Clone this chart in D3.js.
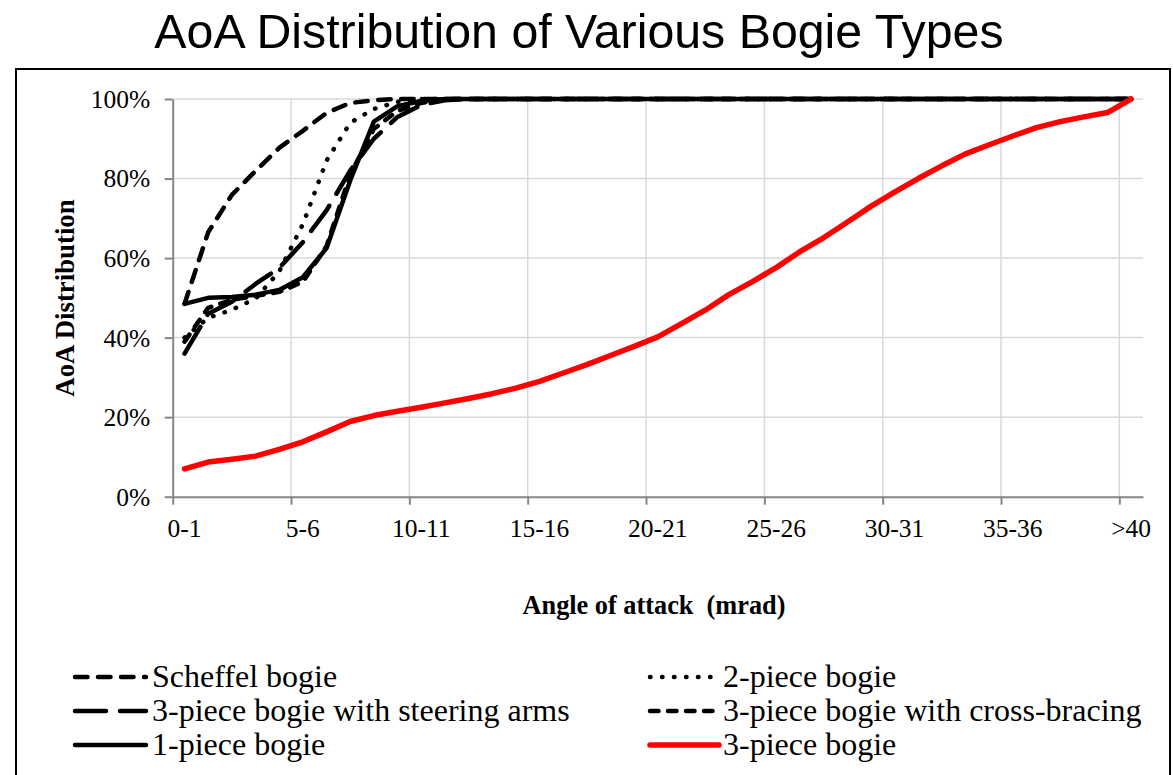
<!DOCTYPE html>
<html>
<head>
<meta charset="utf-8">
<script src="https://cdn.jsdelivr.net/npm/d3@7"></script>
<style>
  html, body { margin: 0; padding: 0; background: #ffffff; }
  svg { display: block; }
</style>
</head>
<body>
<script>
// Angle-of-attack bins (mrad)
const categories = [
  "0-1","1-2","2-3","3-4","4-5","5-6","6-7","7-8","8-9","9-10",
  "10-11","11-12","12-13","13-14","14-15","15-16","16-17","17-18","18-19","19-20",
  "20-21","21-22","22-23","23-24","24-25","25-26","26-27","27-28","28-29","29-30",
  "30-31","31-32","32-33","33-34","34-35","35-36","36-37","37-38","38-39","39-40",
  ">40"
];
const tickLabels = ["0-1","5-6","10-11","15-16","20-21","25-26","30-31","35-36",">40"];
const yTicks = [0, 20, 40, 60, 80, 100];

// Cumulative AoA distribution (%) per bogie type
const scheffel = [
  48.5, 66.5, 75.9, 81.9, 87.7, 92.0, 96.5, 99.0, 99.7, 100,
  100, 100, 100, 100, 100, 100, 100, 100, 100, 100,
  100, 100, 100, 100, 100, 100, 100, 100, 100, 100,
  100, 100, 100, 100, 100, 100, 100, 100, 100, 100,
  100
];
const twoPiece = [
  40.0, 45.0, 47.0, 49.8, 56.6, 68.5, 84.5, 94.0, 97.5, 99.3,
  100, 100, 100, 100, 100, 100, 100, 100, 100, 100,
  100, 100, 100, 100, 100, 100, 100, 100, 100, 100,
  100, 100, 100, 100, 100, 100, 100, 100, 100, 100,
  100
];
const steeringArms = [
  36.0, 46.0, 49.0, 53.5, 57.5, 64.0, 72.0, 82.0, 90.0, 95.5,
  98.5, 99.7, 100, 100, 100, 100, 100, 100, 100, 100,
  100, 100, 100, 100, 100, 100, 100, 100, 100, 100,
  100, 100, 100, 100, 100, 100, 100, 100, 100, 100,
  100
];
const crossBracing = [
  39.0, 47.5, 49.5, 50.5, 51.5, 54.0, 63.0, 81.0, 92.5, 97.0,
  99.0, 100, 100, 100, 100, 100, 100, 100, 100, 100,
  100, 100, 100, 100, 100, 100, 100, 100, 100, 100,
  100, 100, 100, 100, 100, 100, 100, 100, 100, 100,
  100
];
const onePiece = [
  48.5, 50.0, 50.2, 50.8, 52.0, 55.2, 62.5, 79.5, 94.3, 98.2,
  99.5, 100, 100, 100, 100, 100, 100, 100, 100, 100,
  100, 100, 100, 100, 100, 100, 100, 100, 100, 100,
  100, 100, 100, 100, 100, 100, 100, 100, 100, 100,
  100
];
const threePiece = [
  7.0, 8.7, 9.4, 10.2, 11.9, 13.8, 16.3, 18.9, 20.4, 21.5,
  22.5, 23.6, 24.7, 25.9, 27.3, 29.0, 31.1, 33.2, 35.5, 37.8,
  40.2, 43.5, 46.9, 50.8, 54.1, 57.6, 61.6, 65.1, 69.0, 73.0,
  76.6, 80.0, 83.2, 86.2, 88.5, 90.7, 92.8, 94.3, 95.5, 96.6,
  100
];

const seriesNames = [
  "Scheffel bogie",
  "2-piece bogie",
  "3-piece bogie with steering arms",
  "3-piece bogie with cross-bracing",
  "1-piece bogie",
  "3-piece bogie"
];
const seriesValues = [scheffel, twoPiece, steeringArms, crossBracing, onePiece, threePiece];

// Line styles per series
const styles = [
  { color: "#000000", width: 4.5, dash: "12.5,10.5", cap: "round" },
  { color: "#000000", width: 4.5, dash: "0.5,11.5", cap: "round" },
  { color: "#000000", width: 4.5, dash: "31,14", cap: "round" },
  { color: "#000000", width: 4.5, dash: "8.5,9.5", cap: "round" },
  { color: "#000000", width: 4.5, dash: null, cap: "round" },
  { color: "#ff0000", width: 5.5, dash: null, cap: "round" }
];

const W = 1173, H = 775;
const serif = "'Liberation Serif', 'Times New Roman', serif";
const sans = "'Liberation Sans', Arial, sans-serif";

const svg = d3.select("body").append("svg")
  .attr("width", W).attr("height", H);

svg.append("rect").attr("width", W).attr("height", H).attr("fill", "#ffffff");

// Chart frame
svg.append("rect")
  .attr("x", 16).attr("y", 69).attr("width", 1154).attr("height", 800)
  .attr("fill", "none").attr("stroke", "#000000").attr("stroke-width", 2);

// Title
svg.append("text")
  .attr("x", 579).attr("y", 48)
  .attr("text-anchor", "middle")
  .attr("font-family", sans).attr("font-size", 48.3)
  .attr("fill", "#000000")
  .text("AoA Distribution of Various Bogie Types");

// Plot area bounds
const plotLeft = 172.7, plotRight = 1143, plotTop = 99, plotBottom = 496.7;

const x = d3.scaleBand().domain(categories).range([plotLeft, plotRight]).padding(0);
const xb = d3.scaleLinear().domain([0, categories.length]).range([plotLeft, plotRight]);
const y = d3.scaleLinear().domain([0, 100]).range([plotBottom, plotTop]);
const bw = x.bandwidth();

// Gridlines
const grid = svg.append("g").attr("stroke", "#d9d9d9").attr("stroke-width", 1.5);
grid.selectAll("line.h").data(yTicks.filter(d => d > 0)).join("line")
  .attr("class", "h")
  .attr("x1", plotLeft).attr("x2", plotRight)
  .attr("y1", d => y(d)).attr("y2", d => y(d));
const boundaryTicks = d3.range(0, categories.length, 5);
grid.selectAll("line.v").data(boundaryTicks.filter(d => d > 0)).join("line")
  .attr("class", "v")
  .attr("x1", d => xb(d)).attr("x2", d => xb(d))
  .attr("y1", plotTop).attr("y2", plotBottom);

// Y axis
const yAxis = svg.append("g")
  .attr("transform", `translate(${plotLeft},0)`)
  .call(d3.axisLeft(y).tickValues(yTicks).tickFormat(d => d + "%").tickSizeInner(8).tickSizeOuter(0));
yAxis.select(".domain").attr("stroke", "#868686").attr("stroke-width", 2);
yAxis.selectAll(".tick line").attr("stroke", "#868686").attr("stroke-width", 2);
yAxis.selectAll(".tick text")
  .attr("x", -22.5).attr("dy", "0.33em")
  .attr("font-family", serif).attr("font-size", 25.5).attr("fill", "#000000");

// X axis: tick marks at bin boundaries
const xAxis = svg.append("g")
  .attr("transform", `translate(0,${plotBottom})`)
  .call(d3.axisBottom(xb).tickValues(boundaryTicks).tickFormat("").tickSizeInner(8).tickSizeOuter(0));
xAxis.select(".domain").attr("stroke", "#868686").attr("stroke-width", 2);
xAxis.selectAll(".tick line").attr("stroke", "#868686").attr("stroke-width", 2);

// X axis: labels centred on bins
const xLabels = svg.append("g")
  .attr("transform", `translate(0,${plotBottom})`)
  .call(d3.axisBottom(x).tickValues(tickLabels).tickSize(0));
xLabels.select(".domain").remove();
xLabels.selectAll(".tick text")
  .attr("y", 40).attr("dy", 0)
  .attr("font-family", serif).attr("font-size", 25.5).attr("fill", "#000000");

// Axis titles
svg.append("text")
  .attr("x", 654).attr("y", 614)
  .attr("text-anchor", "middle")
  .attr("font-family", serif).attr("font-size", 26.3).attr("font-weight", "bold")
  .attr("fill", "#000000")
  .attr("xml:space", "preserve")
  .style("white-space", "pre")
  .text("Angle of attack  (mrad)");

svg.append("text")
  .attr("transform", `translate(74,298) rotate(-90)`)
  .attr("text-anchor", "middle")
  .attr("font-family", serif).attr("font-size", 26.8).attr("font-weight", "bold")
  .attr("fill", "#000000")
  .text("AoA Distribution");

// Series lines
const line = d3.line()
  .x((d, i) => x(categories[i]) + bw / 2)
  .y(d => y(d));

const lines = svg.append("g").attr("fill", "none");
seriesValues.forEach((vals, k) => {
  const s = styles[k];
  lines.append("path")
    .datum(vals)
    .attr("d", line)
    .attr("stroke", s.color)
    .attr("stroke-width", s.width)
    .attr("stroke-dasharray", s.dash)
    .attr("stroke-linecap", s.cap)
    .attr("stroke-linejoin", "round");
});

// Legend: two columns, three rows
const legendCols = [{ x1: 75, x2: 146, tx: 152 }, { x1: 650, x2: 719, tx: 723 }];
const legendRows = [677, 711, 745];
const legend = svg.append("g");
seriesNames.forEach((name, k) => {
  const col = legendCols[k % 2];
  const ry = legendRows[Math.floor(k / 2)];
  const s = styles[k];
  legend.append("line")
    .attr("x1", col.x1).attr("x2", col.x2)
    .attr("y1", ry).attr("y2", ry)
    .attr("stroke", s.color)
    .attr("stroke-width", s.width)
    .attr("stroke-dasharray", s.dash)
    .attr("stroke-linecap", s.cap);
  legend.append("text")
    .attr("x", col.tx).attr("y", ry + 10)
    .attr("font-family", serif).attr("font-size", 32)
    .attr("fill", "#000000")
    .text(name);
});
</script>
</body>
</html>
